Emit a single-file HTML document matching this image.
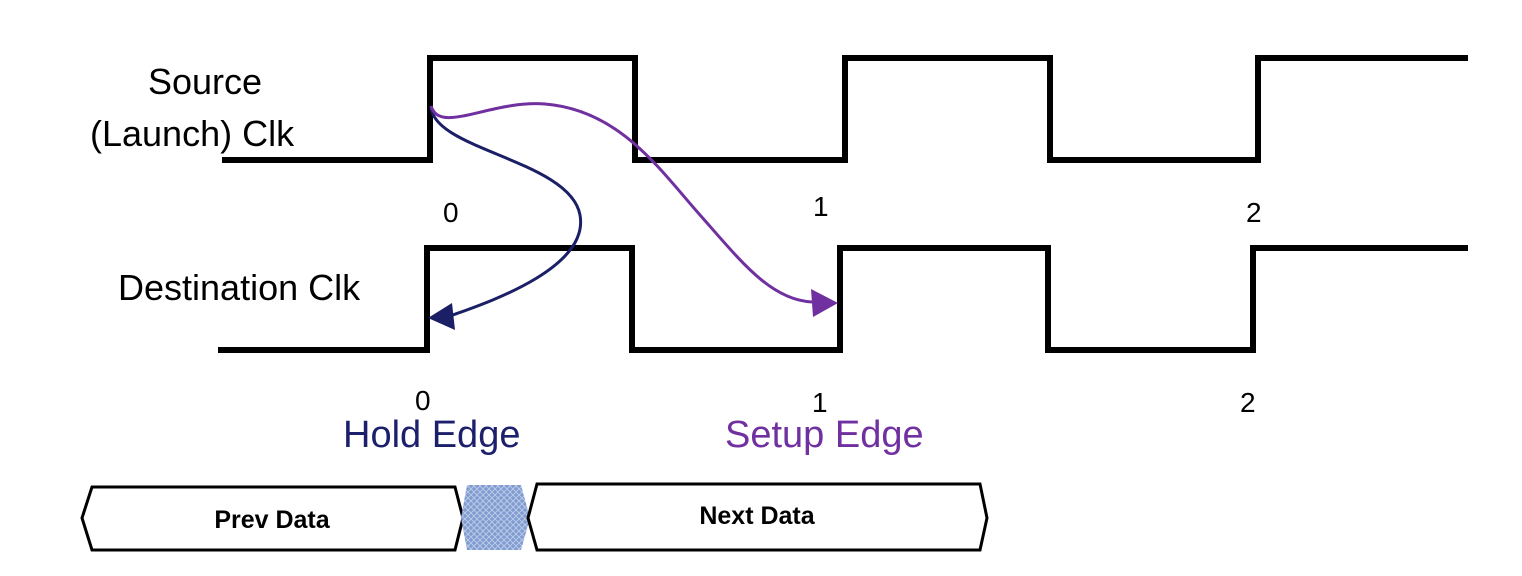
<!DOCTYPE html>
<html><head><style>body{margin:0;background:#fff}svg{display:block}text{font-family:"Liberation Sans",sans-serif}</style></head><body>
<svg width="1522" height="576" viewBox="0 0 1522 576">
<defs>
<pattern id="h" width="6" height="6" patternUnits="userSpaceOnUse"><rect width="6" height="6" fill="#7f9bd0"/><path d="M0 0L6 6M6 0L0 6" stroke="#b8c8e8" stroke-width="1"/></pattern>
</defs>
<g fill="none" stroke="#000" stroke-width="6" stroke-linejoin="miter">
<polyline points="222,160 430,160 430,58 635,58 635,160 845,160 845,58 1050,58 1050,160 1258,160 1258,58 1468,58"/>
<polyline points="218,350 427,350 427,248 632,248 632,350 840,350 840,248 1048,248 1048,350 1253,350 1253,248 1468,248"/>
</g>
<g font-size="36" fill="#000">
<text x="148" y="94">Source</text>
<text x="90" y="146">(Launch) Clk</text>
<text x="118" y="300">Destination Clk</text>
</g>
<g font-size="28" fill="#000">
<text x="443" y="222">0</text><text x="813" y="216">1</text><text x="1246" y="222">2</text>
<text x="415" y="410">0</text><text x="812" y="412">1</text><text x="1240" y="412">2</text>
</g>
<text x="343" y="447" font-size="38" fill="#1c1f6b">Hold Edge</text>
<text x="725" y="447" font-size="38" fill="#7030a0">Setup Edge</text>
<path d="M431,106 C432,150 570,160 580,215 C590,270 480,305 450,316" fill="none" stroke="#1a1f66" stroke-width="3"/>
<polygon points="428,318 452,303 455,330" fill="#1a1f66"/>
<path d="M431,106 C440,135 490,100 545,104 C620,110 660,170 700,215 C740,260 770,300 812,302" fill="none" stroke="#7030a0" stroke-width="3"/>
<polygon points="838,303 811,289 813,317" fill="#7030a0"/>
<polygon points="92,487 455,487 463,518 455,550 92,550 82,518" fill="#fff" stroke="#000" stroke-width="3"/>
<polygon points="467,485 521,485 530,518 521,550 467,550 461,518" fill="url(#h)"/>
<polygon points="537,484 980,484 987,518 980,550 537,550 528,518" fill="#fff" stroke="#000" stroke-width="3"/>
<text x="272" y="528" font-size="25" font-weight="bold" text-anchor="middle">Prev Data</text>
<text x="757" y="524" font-size="25" font-weight="bold" text-anchor="middle">Next Data</text>
</svg>
</body></html>
